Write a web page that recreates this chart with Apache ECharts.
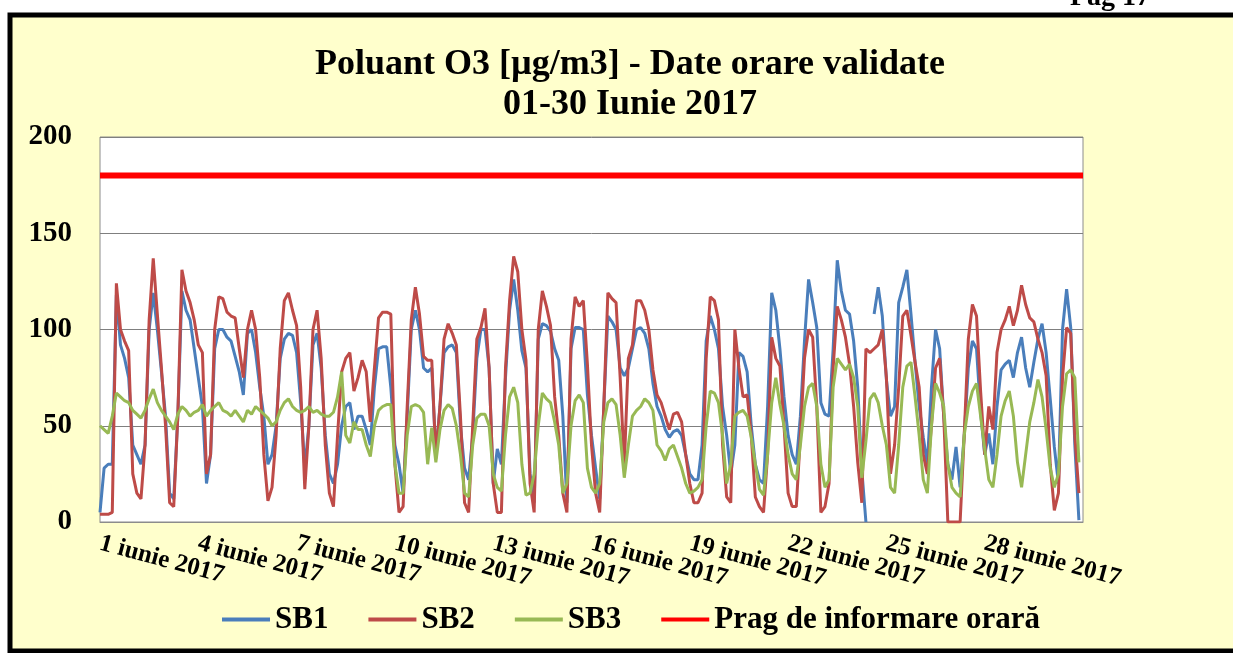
<!DOCTYPE html>
<html><head><meta charset="utf-8">
<script src="https://cdn.jsdelivr.net/npm/echarts@6/dist/echarts.min.js"></script>
<style>html,body{margin:0;padding:0;background:#fff;}#c{width:1233px;height:653px;}</style>
</head><body><div id="c"></div>
<script>
// one value every 3 hours, 8 per day, 1-30 June 2017
const STEP_H = 3;
const dayLabels = ['1 iunie 2017','4 iunie 2017','7 iunie 2017','10 iunie 2017','13 iunie 2017',
  '16 iunie 2017','19 iunie 2017','22 iunie 2017','25 iunie 2017','28 iunie 2017'];
const seriesNames = ['SB1','SB2','SB3','Prag de informare orară'];
const prag = 180;

const sb1 = [
  5,28,30,30,118,92,85,75,   40,35,30,40,100,119,100,78,   55,15,12,55,120,110,105,90,
  75,60,20,35,90,100,100,96, 94,86,78,66,98,100,88,70,     55,30,35,50,85,95,98,97,
  88,62,28,50,92,98,80,45,   25,20,30,50,60,62,48,55,      55,48,40,70,90,91,91,70,
  40,30,15,55,100,110,100,80, 78,80,35,60,88,91,92,88,     50,28,22,45,85,100,100,80,
  20,38,30,75,110,126,110,89, 80,25,10,95,103,102,99,90,   84,55,10,90,101,101,100,66,
  45,28,12,60,107,104,100,80, 76,80,90,100,101,98,90,72,   60,55,48,44,47,48,45,35,
  25,22,22,40,94,107,100,90, 60,45,25,40,88,86,78,50,      30,22,20,60,119,110,90,65,
  45,35,30,55,94,126,114,101, 62,56,55,90,136,120,110,108, 94,70,27,0,null,108,122,107,
  74,55,60,114,122,131,108,83, 60,44,30,70,100,90,55,30,   22,39,18,45,80,94,90,57,
  35,46,30,60,79,82,84,75,   88,96,80,70,83,95,103,88,     64,39,20,100,121,101,40,1
];
const sb2 = [
  4,4,4,5,124,100,94,89,     25,15,12,40,105,137,108,80,   50,10,8,55,131,120,114,105,
  92,88,25,35,100,117,116,109, 107,106,90,75,100,110,100,75, 35,11,18,45,90,115,119,110,
  102,70,17,50,100,110,85,40, 15,8,45,78,85,88,68,75,      84,78,52,80,106,109,109,108,
  30,5,8,60,105,122,108,86,  84,84,33,60,95,103,98,92,     55,10,5,50,95,101,111,80,
  20,5,5,80,115,138,130,100, 84,20,5,100,120,112,102,65,   45,15,5,95,117,112,115,82,
  40,15,5,60,119,116,114,75, 29,85,92,115,115,110,100,79,  66,62,55,48,56,57,52,35,
  20,10,10,15,85,117,115,105, 40,13,10,100,80,65,66,45,    13,8,5,35,96,85,81,50,
  15,8,8,45,85,100,96,60,    5,8,20,80,112,105,96,82,      60,31,10,90,88,90,92,100,
  75,25,40,70,107,110,97,83, 70,35,25,50,80,85,55,0,       0,0,0,45,95,113,107,68,
  35,60,48,88,100,105,112,102, 110,123,113,106,104,95,88,76, 30,6,15,75,101,98,45,15
];
const sb3 = [
  50,48,46,55,67,65,63,62,   58,56,54,58,64,69,62,58,      55,52,48,56,60,58,55,57,
  58,61,55,58,60,62,58,57,   55,58,55,52,58,56,60,58,      56,54,50,52,58,62,64,60,
  58,57,58,60,57,58,56,55,   55,57,65,78,45,41,52,48,      48,40,34,50,58,60,61,61,
  30,15,15,45,60,61,60,57,   30,49,31,48,58,61,59,50,      35,15,13,40,54,56,56,50,
  25,18,16,45,65,70,62,30,   14,15,25,50,67,64,62,52,      40,15,20,50,63,66,62,28,
  18,15,20,52,62,64,61,45,   23,40,55,58,60,64,62,58,      40,37,32,38,40,34,28,20,
  15,16,18,22,50,68,67,62,   45,20,30,55,57,58,55,44,      30,17,14,35,62,75,61,50,
  35,25,22,40,60,70,72,60,   30,18,22,70,85,82,79,82,      75,60,23,42,64,67,62,50,
  40,18,15,40,70,81,83,65,   45,22,15,50,72,67,60,30,      18,15,13,45,60,68,72,55,
  38,22,18,35,55,63,68,55,   31,18,35,52,62,74,65,48,      28,18,25,60,77,79,75,31
];

const HOURS = 720;
const toXY = arr => arr.map((v, i) => [i * STEP_H, v === null ? '-' : v]);
const serif = '"Liberation Serif", "Times New Roman", serif';
const colors = ['#4A7EBB', '#BE4B48', '#98B954', '#FF0000'];

const chart = echarts.init(document.getElementById('c'), null, {renderer: 'canvas'});
chart.setOption({
  backgroundColor: '#ffffff',
  animation: false,
  color: colors,
  graphic: [
    {type: 'rect', z: -100, silent: true,
     shape: {x: 10, y: 15, width: 1240, height: 636},
     style: {fill: '#FFFFCC', stroke: '#000', lineWidth: 5}},
    {type: 'text', z: 10, left: 1070, top: -16, silent: true,
     style: {text: 'Pag 17', font: 'bold 28px ' + serif, fill: '#000'}}
  ],
  title: {
    text: 'Poluant O3 [µg/m3] - Date orare validate\n01-30 Iunie 2017',
    left: 625, top: 40, textAlign: 'center',
    textStyle: {fontFamily: serif, fontWeight: 'bold', fontSize: 36, lineHeight: 40, color: '#000'}
  },
  legend: {
    data: seriesNames,
    left: 217, top: 599,
    icon: 'rect',
    itemWidth: 48, itemHeight: 4, itemGap: 40,
    textStyle: {fontFamily: serif, fontWeight: 'bold', fontSize: 31, color: '#000'}
  },
  grid: {left: 100, top: 137, width: 983, height: 385, show: true,
         backgroundColor: '#ffffff', borderColor: '#8C8C8C', borderWidth: 1, containLabel: false},
  xAxis: {
    type: 'value', min: 0, max: HOURS, interval: 72,
    axisLine: {show: true, lineStyle: {color: '#8C8C8C'}},
    axisTick: {show: false},
    splitLine: {show: false},
    axisLabel: {
      rotate: -15, margin: 21, showMaxLabel: false,
      formatter: v => dayLabels[v / 72] || '',
      fontFamily: serif, fontWeight: 'bold', fontSize: 25, color: '#000'
    }
  },
  yAxis: {
    type: 'value', min: 0, max: 200, interval: 50,
    axisLine: {show: false}, axisTick: {show: false},
    splitLine: {lineStyle: {color: '#7F7F7F', width: 1}},
    axisLabel: {margin: 28, fontFamily: serif, fontWeight: 'bold', fontSize: 29, color: '#000'}
  },
  series: [
    {name: seriesNames[0], type: 'line', data: toXY(sb1), symbol: 'none', lineStyle: {width: 3}, z: 2},
    {name: seriesNames[1], type: 'line', data: toXY(sb2), symbol: 'none', lineStyle: {width: 3}, z: 3},
    {name: seriesNames[2], type: 'line', data: toXY(sb3), symbol: 'none', lineStyle: {width: 3}, z: 4},
    {name: seriesNames[3], type: 'line', data: [[0, prag], [HOURS, prag]], symbol: 'none', lineStyle: {width: 6}, z: 5}
  ]
});
</script>
</body></html>
